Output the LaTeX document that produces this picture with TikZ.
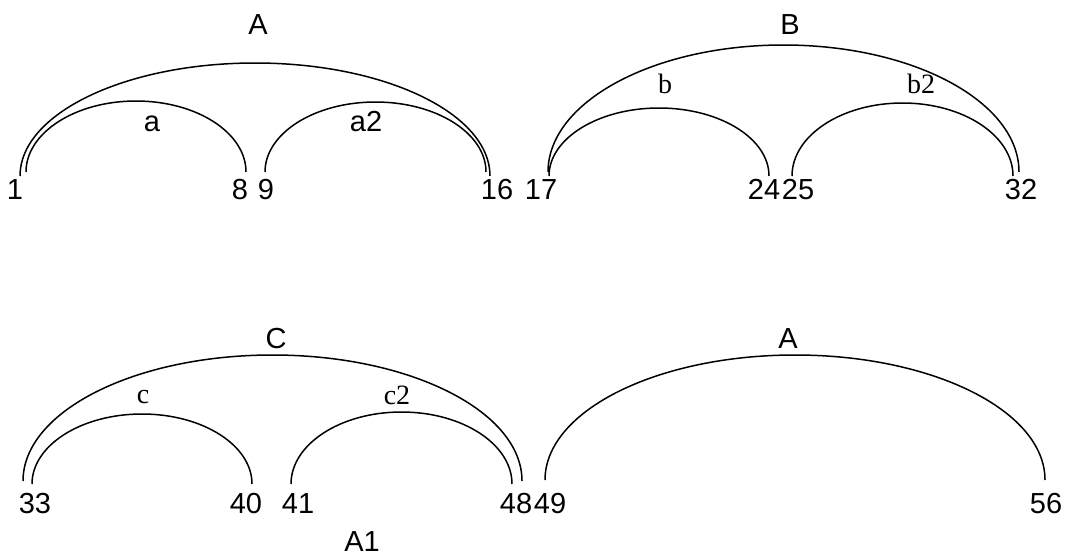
\documentclass[tikz,border=0pt]{standalone}
\usepackage{fontspec}
\setmainfont{Liberation Sans}
\newfontfamily\serifont{Liberation Serif}
\begin{document}
\begin{tikzpicture}[x=1pt,y=-1pt,
  lab/.style={font=\fontsize{29}{29}\selectfont, anchor=base, inner sep=0pt},
  slab/.style={font=\serifont\fontsize{28}{28}\selectfont, anchor=base, inner sep=0pt},
  arcl/.style={line width=1.5pt}]
\useasboundingbox (0,0) rectangle (1075,557);
% arc feet
\coordinate (pA) at (20,176);
\coordinate (pa) at (26,172);
\coordinate (pa2) at (265,172);
\coordinate (pB) at (548,172);
\coordinate (pb) at (549,176);
\coordinate (pb2) at (792,176);
\coordinate (pC) at (23,481);
\coordinate (pc) at (32,484);
\coordinate (pc2) at (291,484);
\coordinate (pA3) at (545,480);
% arcs
\draw[arcl] (pA) arc[start angle=180,end angle=360,x radius=235,y radius=113];
\draw[arcl] (pa) arc[start angle=180,end angle=360,x radius=110,y radius=71];
\draw[arcl] (pa2) arc[start angle=180,end angle=360,x radius=110.5,y radius=70];
\draw[arcl] (pB) arc[start angle=180,end angle=360,x radius=235.5,y radius=127];
\draw[arcl] (pb) arc[start angle=180,end angle=360,x radius=110,y radius=68];
\draw[arcl] (pb2) arc[start angle=180,end angle=360,x radius=110.5,y radius=73];
\draw[arcl] (pC) arc[start angle=180,end angle=360,x radius=249.5,y radius=126];
\draw[arcl] (pc) arc[start angle=180,end angle=360,x radius=110,y radius=70];
\draw[arcl] (pc2) arc[start angle=180,end angle=360,x radius=110.5,y radius=72];
\draw[arcl] (pA3) arc[start angle=180,end angle=360,x radius=250,y radius=125];
% arc labels
\node[lab] (lA) at (258,34) {A};
\node[lab] (la) at (152,131) {a};
\node[lab] (la2) at (366,131) {a2};
\node[lab] (lB) at (790,34) {B};
\node[slab] (lb) at (665,93) {b};
\node[slab] (lb2) at (921,93) {b2};
\node[lab] (lC) at (276,348) {C};
\node[slab] (lc) at (143,403) {c};
\node[slab] (lc2) at (397,404) {c2};
\node[lab] (lA3) at (788,348) {A};
\node[lab] (lA1) at (362,551) {A1};
% position labels
\node[lab] (n1) at (15,199) {1};
\node[lab] (n8) at (240,199) {8};
\node[lab] (n9) at (266,199) {9};
\node[lab] (n16) at (497,199) {16};
\node[lab] (n17) at (541,199) {17};
\node[lab] (n24) at (764,199) {24};
\node[lab] (n25) at (798,199) {25};
\node[lab] (n32) at (1021,199) {32};
\node[lab] (n33) at (35,513) {33};
\node[lab] (n40) at (246,513) {40};
\node[lab] (n41) at (298,513) {41};
\node[lab] (n48) at (516,513) {48};
\node[lab] (n49) at (550,513) {49};
\node[lab] (n56) at (1046,513) {56};
\end{tikzpicture}
\end{document}
